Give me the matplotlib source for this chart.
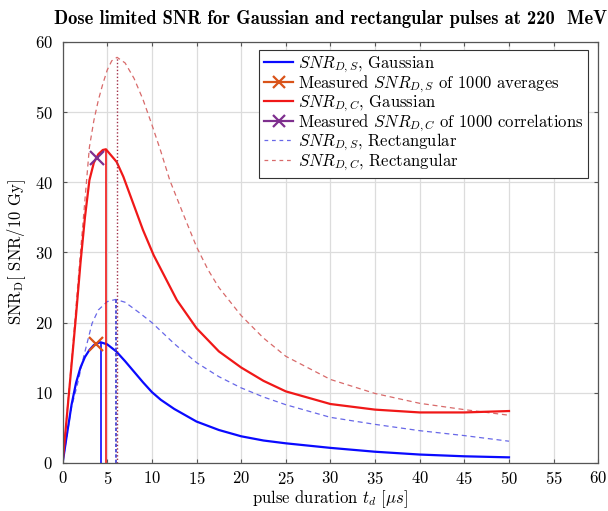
"""
Dose limited SNR for Gaussian and rectangular pulses at 220 MeV
"""
import matplotlib
matplotlib.use("Agg")
import matplotlib.pyplot as plt
from matplotlib.lines import Line2D

plt.rcParams['font.family'] = 'cmr10'
plt.rcParams['mathtext.fontset'] = 'cm'
plt.rcParams['axes.formatter.use_mathtext'] = True
plt.rcParams['font.size'] = 12

# SNR_D,S, Gaussian pulses
td_gs = [0, 0.5, 1, 1.5, 2, 2.5, 3, 3.5, 4, 4.25, 5, 6, 7, 8, 9, 10, 11,
         12.5, 15, 17.5, 20, 22.5, 25, 30, 35, 40, 45, 50]
snr_gs = [0, 4.2, 8.3, 11.4, 13.6, 15.1, 16.1, 16.8, 17.1, 17.2, 16.9, 15.9,
          14.5, 13.0, 11.5, 10.1, 9.0, 7.7, 5.9, 4.7, 3.8, 3.2, 2.8, 2.15,
          1.6, 1.2, 0.95, 0.8]

# SNR_D,C, Gaussian pulses
td_gc = [0, 0.5, 1, 1.5, 2, 2.5, 3, 3.5, 4, 4.5, 4.85, 6.05, 6.8, 7.9, 9.0,
         10.2, 12.8, 15, 17.5, 20, 22.5, 25, 30, 35, 40, 45, 50]
snr_gc = [0, 7, 14, 21, 28.5, 35, 40.3, 42.8, 44.0, 44.6, 44.7, 42.9, 40.8,
          37.0, 33.2, 29.6, 23.2, 19.2, 15.9, 13.6, 11.7, 10.2, 8.4, 7.6, 7.2,
          7.2, 7.4]

# SNR_D,S, rectangular pulses
td_rs = [0, 0.5, 1, 1.6, 2.35, 3.3, 4, 5, 5.95, 7, 8.6, 10, 12.5, 15, 17.5,
         20, 22.5, 25, 30, 35, 40, 45, 50]
snr_rs = [0, 4, 8, 10.9, 15.1, 19.9, 21.8, 23.0, 23.3, 22.9, 21.4, 20.0, 17.0,
          14.3, 12.3, 10.7, 9.4, 8.3, 6.5, 5.5, 4.6, 3.9, 3.1]

# SNR_D,C, rectangular pulses
td_rc = [0, 1, 2, 3, 3.5, 4, 4.5, 5, 5.5, 6.1, 7, 8, 9, 10, 11, 12, 13.5, 15,
         16.3, 17.5, 20, 22.5, 25, 30, 35, 40, 45, 50]
snr_rc = [0, 14.5, 30, 45, 48.8, 51.7, 54, 56, 57.3, 57.8, 57.0, 54.8, 51.8,
          48.2, 44.4, 40.3, 35.5, 30.8, 27.5, 25.0, 21.0, 17.8, 15.2, 11.9,
          9.9, 8.5, 7.6, 6.8]

# peak markers (vertical lines)
peak_gs = (4.25, 17.2)
peak_gc = (4.85, 44.7)
peak_rs = (5.95, 23.3)
peak_rc = (6.1, 57.8)

# measurements
meas_s = (3.7, 17.0)
meas_c = (3.8, 43.4)

c_blue = '#0a0aff'
c_red = '#f01818'
c_blue_d = '#6868e8'
c_red_d = '#d86a6a'
c_orange = '#d95319'
c_purple = '#7e2f8e'

fig = plt.figure(figsize=(6.08, 5.11), dpi=100)
ax = fig.add_axes([0.103, 0.094, 0.881, 0.824])

ax.plot(td_rs, snr_rs, color=c_blue_d, lw=0.9, ls=(0, (4, 3)))
ax.plot(td_rc, snr_rc, color=c_red_d, lw=0.9, ls=(0, (4, 3)))
ax.plot(td_gs, snr_gs, color=c_blue, lw=1.6)
ax.plot(td_gc, snr_gc, color=c_red, lw=1.6)

ax.vlines(peak_gs[0], 0, peak_gs[1], color=c_blue, lw=1.2)
ax.vlines(peak_gc[0], 0, peak_gc[1], color=c_red, lw=1.2)
ax.vlines(peak_rs[0], 0, peak_rs[1], color='#3838d0', lw=1.2,
          linestyles=(0, (2, 1.2)))
ax.vlines(peak_rc[0], 0, peak_rc[1], color='#a03048', lw=1.0,
          linestyles=(0, (1, 1.5)))

ax.plot(*meas_s, marker='x', color=c_orange, ms=10, mew=1.6, ls='none')
ax.plot(*meas_c, marker='x', color=c_purple, ms=10, mew=1.6, ls='none')

ax.set_xlim(0, 60)
ax.set_ylim(0, 60)
ax.set_xticks(range(0, 61, 5))
ax.set_yticks(range(0, 61, 10))
ax.grid(True, color='#dcdcdc', lw=0.9)
ax.set_axisbelow(True)
ax.tick_params(direction='in', top=True, right=True, length=3,
               color='#555555', labelsize=12)
ax.tick_params(axis='y', pad=7)
ax.tick_params(axis='x', pad=5)
for sp in ax.spines.values():
    sp.set_color('#555555')
    sp.set_linewidth(0.9)

ax.set_xlabel(r'pulse duration $t_d$ [$\mu s$]', fontsize=12, labelpad=1)
ax.set_ylabel(r'SNR$_\mathrm{D}$[ SNR/10 Gy]', fontsize=12, labelpad=5)
ax.set_title('Dose limited SNR for Gaussian and rectangular pulses at 220  MeV',
             fontfamily='cmb10', fontsize=13.3, pad=13)

handles = [
    Line2D([], [], color=c_blue, lw=1.6),
    Line2D([], [], color=c_orange, lw=1.6, marker='x', ms=9, mew=1.6),
    Line2D([], [], color=c_red, lw=1.6),
    Line2D([], [], color=c_purple, lw=1.6, marker='x', ms=9, mew=1.6),
    Line2D([], [], color=c_blue_d, lw=0.9, ls=(0, (3, 3))),
    Line2D([], [], color=c_red_d, lw=0.9, ls=(0, (3, 3))),
]
labels = [
    r'$SNR_{D,S}$, Gaussian',
    r'Measured $SNR_{D,S}$ of 1000 averages',
    r'$SNR_{D,C}$, Gaussian',
    r'Measured $SNR_{D,C}$ of 1000 correlations',
    r'$SNR_{D,S}$, Rectangular',
    r'$SNR_{D,C}$, Rectangular',
]
leg = ax.legend(handles, labels, loc='upper right',
                bbox_to_anchor=(0.981, 0.981), borderaxespad=0,
                fancybox=False, framealpha=1, edgecolor='#333333',
                fontsize=12, handlelength=1.7, handletextpad=0.3,
                labelspacing=-0.1, borderpad=0.3)
leg.get_frame().set_linewidth(0.8)

fig.savefig('out.png', dpi=100)
